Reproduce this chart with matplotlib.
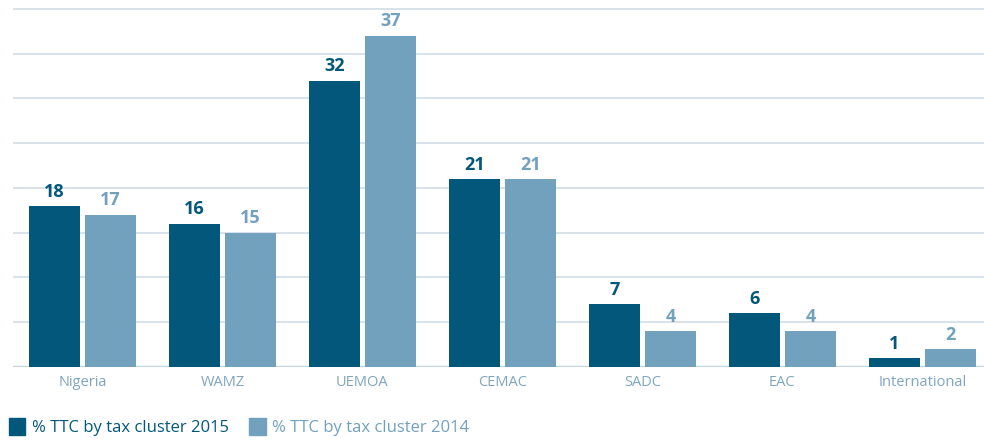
import numpy as np
import matplotlib.pyplot as plt
from matplotlib.patches import Patch

# data
clusters = ['Nigeria', 'WAMZ', 'UEMOA', 'CEMAC', 'SADC', 'EAC', 'International']
ttc_2015 = [18, 16, 32, 21, 7, 6, 1]
ttc_2014 = [17, 15, 37, 21, 4, 4, 2]
series_labels = ['% TTC by tax cluster 2015', '% TTC by tax cluster 2014']

dark = '#02577b'
light = '#72a1be'
grid_col = '#d3dfe8'
tick_col = '#7fa5bf'

plt.rcParams['font.family'] = ['Open Sans', 'DejaVu Sans']

fig = plt.figure(figsize=(9.84, 4.43), dpi=100)
ax = fig.add_axes([13 / 984, 76 / 443, 1 - 13 / 984, 1 - 76 / 443])

x = np.arange(len(clusters))
w = 0.364
off = 0.2
b1 = ax.bar(x - off, ttc_2015, width=w, color=dark, zorder=3)
b2 = ax.bar(x + off, ttc_2014, width=w, color=light, zorder=3)

for rect, v in zip(b1, ttc_2015):
    ax.text(rect.get_x() + rect.get_width() / 2, v + 0.6, str(v),
            ha='center', va='bottom', color=dark, fontsize=13, fontweight='bold')
for rect, v in zip(b2, ttc_2014):
    ax.text(rect.get_x() + rect.get_width() / 2, v + 0.6, str(v),
            ha='center', va='bottom', color=light, fontsize=13, fontweight='bold')

ax.set_xlim(-0.496, 6.44)
ax.set_ylim(0, 41)
ax.set_yticks(np.arange(5, 45, 5))
ax.yaxis.grid(True, color=grid_col, linewidth=1.3, zorder=0)
ax.axhline(0, color='#c5d6e2', linewidth=2.5, zorder=2)
ax.tick_params(axis='y', left=False, labelleft=False)
ax.tick_params(axis='x', length=0, pad=6, labelsize=10.5, labelcolor=tick_col)
ax.set_xticks(x)
ax.set_xticklabels(clusters)
for s in ax.spines.values():
    s.set_visible(False)

handles = [Patch(color=dark), Patch(color=light)]
fig.legend(handles, series_labels, loc='lower left', bbox_to_anchor=(-0.003, -0.01),
           ncol=2, frameon=False, fontsize=12, labelcolor=[dark, light],
           handlelength=1.0, handleheight=1.2, handletextpad=0.4, columnspacing=1.2,
           borderaxespad=0.3)

fig.savefig('out.png', dpi=100)
